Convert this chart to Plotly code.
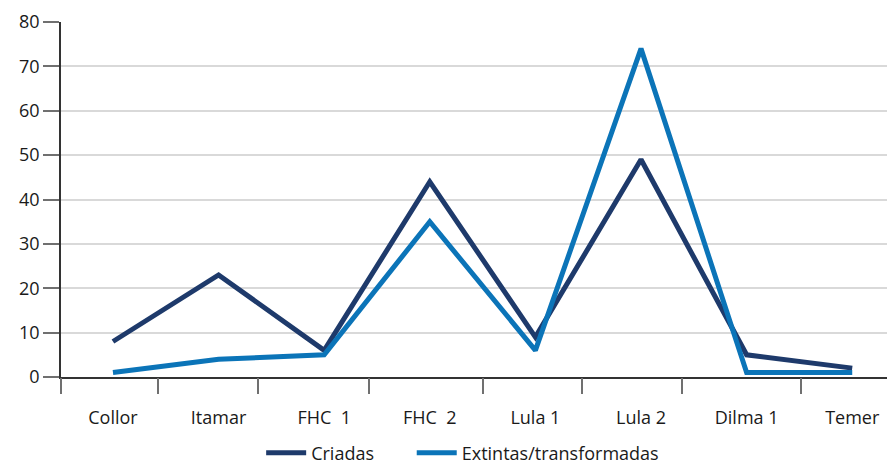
import plotly.graph_objects as go

categories = ["Collor", "Itamar", "FHC  1", "FHC  2", "Lula 1", "Lula 2", "Dilma 1", "Temer"]
criadas = [8, 23, 6, 44, 9, 49, 5, 2]
extintas = [1, 4, 5, 35, 6, 74, 1, 1]
y_ticks = [0, 10, 20, 30, 40, 50, 60, 70, 80]
series_names = ["Criadas", "Extintas/transformadas"]

idx = list(range(len(categories)))
xr = [-0.492, 7.405]
# irregular category-boundary tick marks as in the original
boundary_ticks = [-0.492, 0.426, 1.373, 2.424, 3.504, 4.441, 5.388, 6.515]

font = dict(family="Open Sans", size=18, color="#1a1a1a")
pad = "\u00a0" * 7  # extra spacing between legend entries

fig = go.Figure()
fig.add_trace(go.Scatter(x=idx, y=criadas, mode="lines", name=series_names[0] + pad,
                         line=dict(color="#1e3a6b", width=5)))
fig.add_trace(go.Scatter(x=idx, y=extintas, mode="lines", name=series_names[1],
                         line=dict(color="#0b74b8", width=5)))

# page body has an 8px margin, so the figure is sized/offset to compensate
fig.update_layout(
    width=887, height=454,
    margin=dict(l=53, r=0, t=14, b=85, autoexpand=False),
    paper_bgcolor="white", plot_bgcolor="white",
    font=font,
    showlegend=True,
    legend=dict(orientation="h", x=0.24, xanchor="left", y=-0.214, yanchor="middle",
                font=font, itemwidth=40, tracegroupgap=0),
    xaxis=dict(range=xr, tickmode="array", tickvals=idx, ticktext=categories,
               ticks="outside", ticklen=24, tickcolor="rgba(0,0,0,0)", automargin=False,
               showgrid=False, zeroline=False, showline=True, linecolor="#333333", linewidth=1.5,
               tickfont=font),
    xaxis2=dict(range=xr, overlaying="x", anchor="y", side="bottom", automargin=False,
                tickmode="array", tickvals=boundary_ticks, ticktext=[""] * len(boundary_ticks),
                ticks="outside", ticklen=16, tickwidth=1.5, tickcolor="#707070",
                showgrid=False, zeroline=False, showline=False, showticklabels=False),
    yaxis=dict(range=[0, 80], tickmode="array", tickvals=y_ticks, automargin=False,
               ticks="outside", ticklen=16, tickwidth=1.5, tickcolor="#707070",
               showgrid=True, gridcolor="#d9d9d9", gridwidth=1.5,
               zeroline=False, showline=True, linecolor="#333333", linewidth=1.5,
               tickfont=font),
)
fig.add_trace(go.Scatter(x=[xr[0]], y=[0], xaxis="x2", mode="markers",
                         marker=dict(opacity=0), showlegend=False, hoverinfo="skip"))

fig.write_html("out.html")
